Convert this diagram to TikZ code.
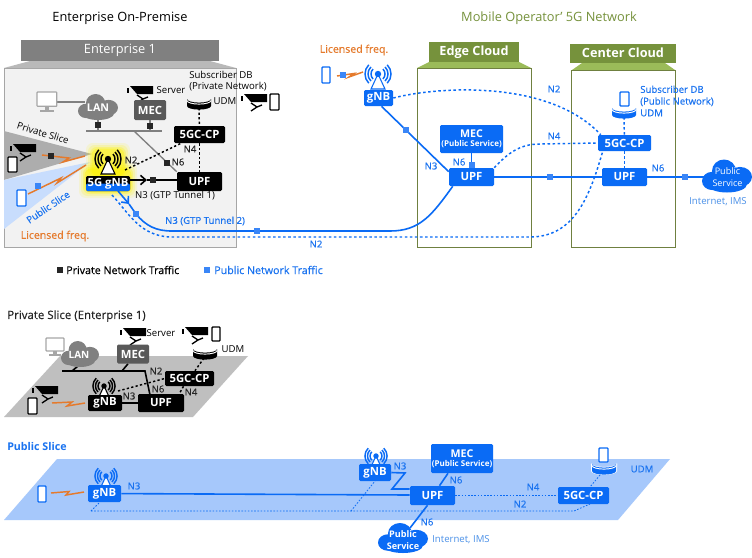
\documentclass[tikz,border=0pt]{standalone}
\usepackage{fontspec}
\setmainfont{Open Sans}
\newfontfamily\medf[FakeBold=0.35]{Open Sans}
\usetikzlibrary{arrows.meta,calc}
\pgfdeclarelayer{panel}\pgfdeclarelayer{conn}
\pgfsetlayers{panel,conn,main}
\definecolor{bl}{HTML}{0A6BF5}
\definecolor{blt}{HTML}{1A73F0}
\definecolor{sqb}{HTML}{3A86F7}
\definecolor{lbl}{HTML}{4A90E8}
\definecolor{org}{HTML}{E57A2C}
\definecolor{ol}{HTML}{76923C}
\definecolor{oll}{HTML}{9BBB59}
\definecolor{olb}{HTML}{6F8040}
\definecolor{gr}{HTML}{595959}
\definecolor{grc}{HTML}{808080}
\tikzset{
  x=0.75pt,y=-0.75pt,
  sz/.style 2 args={minimum width=#1*0.75pt,minimum height=#2*0.75pt},
  boxk/.style={fill=black,text=white,rounded corners=1pt,inner sep=0,font=\fontsize{8.5}{9}\selectfont\bfseries},
  boxg/.style={boxk,fill=gr},
  boxb/.style={boxk,fill=bl},
  lab/.style={inner sep=0,font=\fontsize{7.2}{8.6}\selectfont},
  nk/.style={lab,font=\medf\fontsize{7.2}{8}\selectfont,text=black!85},
  nb/.style={lab,font=\medf\fontsize{7.2}{8}\selectfont,text=blt},
  sqk/.style={fill=black!85,inner sep=0,minimum size=4.5pt},
  sqbl/.style={fill=sqb,inner sep=0,minimum size=4.5pt},
  bolt/.style={org,line width=1.1pt},
  dk/.style={black,line width=1.1pt,dash pattern=on 1.7pt off 1.7pt},
  db/.style={bl,line width=1.1pt,dash pattern=on 1.9pt off 1.9pt},
  dthin/.style={bl,line width=.6pt,dash pattern=on 1.2pt off 1.2pt},
  lb/.style={bl,line width=1.2pt},
  lk/.style={black,line width=1.2pt},
  lg/.style={grc,line width=1pt},
}
\newcommand\camI[3]{\begin{scope}[shift={(#1,#2)},scale=#3]
 \fill (0,3) rectangle (2,8);
 \fill (3,1) -- (26,1) -- (26,9) -- (10,9) -- cycle;
 \draw[line width=1pt] (10,10) -- (16,14) -- (10,18) (16,14) -- (21,12);
 \end{scope}}
\newcommand\phoneI[5]{\draw[#5,fill=white,line width=1pt,rounded corners=.6pt] (#1,#2) rectangle (#3,#4);}
\newcommand\towerI[4]{\begin{scope}[shift={(#1,#2)},scale=#3]
 \filldraw[#4,fill=white,line width=.8pt] (0,0) -- (-7,15) -- (7,15) -- cycle;
 \fill[#4] (0,0) circle (3.2);
 \foreach \r in {7,10,13}{
  \draw[#4,line width=1.1pt] (-45:\r) arc (-45:45:\r);
  \draw[#4,line width=1.1pt] (135:\r) arc (135:225:\r);}
 \end{scope}}
\newcommand\dbI[5]{\begin{scope}[shift={(#1,#2)}]
 \fill[#5] (-#3,0) -- (-#3,#4) arc[start angle=180,end angle=0,x radius=#3,y radius=#3*0.3] -- (#3,0) arc[start angle=0,end angle=180,x radius=#3,y radius=#3*0.3] -- cycle;
 \draw[white,line width=.7pt] (-#3,1.5) arc[start angle=180,end angle=0,x radius=#3,y radius=#3*0.3];
 \end{scope}}
\newcommand\cloudI[5]{\begin{scope}[shift={(#1,#2)},xscale=#3,yscale=#4]
 \fill[#5] (-.12,-.3) ellipse[x radius=.48,y radius=.7];
 \fill[#5] (.52,.05) ellipse[x radius=.48,y radius=.6];
 \fill[#5] (-.6,.3) ellipse[x radius=.4,y radius=.55];
 \fill[#5] (0,.5) ellipse[x radius=.8,y radius=.5];
 \end{scope}}
\newcommand\monI[3]{\begin{scope}[shift={(#1,#2)},scale=#3]
 \draw[gray!70,fill=white,line width=.9pt,rounded corners=.5pt] (0,0) rectangle (18,13);
 \fill[gray!70] (7,13) rectangle (11,16);
 \fill[gray!70] (3,16) rectangle (15,18);
 \end{scope}}
\begin{document}
\begin{tikzpicture}
\useasboundingbox (0,0) rectangle (752,557);
\begin{pgfonlayer}{panel}
\fill[white] (0,0) rectangle (752,557);
% enterprise
\fill[gray!55] (4,68) -- (30,61) -- (210,61) -- (236,68) -- cycle;
\fill[grc] (21,40) rectangle (219,61);
\draw[gray!70,fill=black!5,line width=.7pt] (4,68) rectangle (236,247);
\fill[black!32] (4,131) -- (92,154) -- (4,180) -- cycle;
\fill[sqb!28] (4,180) -- (90,162) -- (4,229) -- cycle;
% edge, center
\fill[oll] (417,68) -- (429,62) -- (519,62) -- (531,68) -- cycle;
\fill[ol] (429,42) rectangle (519,62);
\draw[olb,line width=.7pt] (417,68) rectangle (531,247);
\fill[oll] (572,70) -- (582,63) -- (665,63) -- (675,70) -- cycle;
\fill[ol] (570,44) rectangle (676,63);
\draw[olb,line width=.7pt] (571,70) rectangle (675,247);
% slices
\fill[black!25] (4,417) -- (60,356) -- (248,356) -- (193,417) -- cycle;
\fill[sqb!45] (4,520) -- (57,459) -- (670,459) -- (618,520) -- cycle;
% glow
\foreach \d/\o in {7/.12,5/.18,3/.28,1.5/.4}{
 \fill[yellow,opacity=\o,rounded corners=5pt] (86-\d,170-\d) rectangle (130+\d,191+\d);
 \fill[yellow,opacity=\o,rounded corners=5pt] (93-\d,150-\d) rectangle (123+\d,176);}
\end{pgfonlayer}

%---------- text headings
\node[lab,font=\fontsize{9.6}{10}\selectfont] (tEnt) at (120,18) {Enterprise On-Premise};
\node[lab,font=\fontsize{9.6}{10}\selectfont,text=ol] (tMob) at (549,18) {Mobile Operator' 5G Network};
\node[lab,font=\fontsize{9.6}{10}\selectfont,text=white] (tE1) at (120,50) {Enterprise 1};
\node[lab,font=\fontsize{9.5}{10}\selectfont\bfseries,text=white] (tEdge) at (474,52) {Edge Cloud};
\node[lab,font=\fontsize{9.5}{10}\selectfont\bfseries,text=white] (tCen) at (623,53) {Center Cloud};

%---------- enterprise contents
\monI{37}{92}{1.1}
\cloudI{98}{107}{20}{13}{grc}
\node[lab,font=\fontsize{8}{9}\selectfont\bfseries,text=white] (lan) at (98,108) {LAN};
\camI{127}{85}{1}
\node[lab] (tSrv) at (171,90) {Server};
\node[boxg,sz={32}{20}] (mec) at (150,110) {MEC};
\node[lab,anchor=west,align=left] (tSub) at (189,81) {Subscriber DB\\(Private Network)};
\dbI{199}{99}{12}{7}{black}
\coordinate (udm) at (199,108);
\node[lab] (tUdm) at (225,101) {UDM};
\camI{241}{93}{1}
\phoneI{270}{94}{279}{110}{black}
\node[boxk,sz={51}{17}] (cp) at (199.5,134.5) {5GC-CP};
\node[boxk,sz={45}{19}] (upf) at (199.5,181.5) {UPF};
\node[nk] (lN4) at (190,149) {N4};
\node[nk] (lN2) at (131,160) {N2};
\node[nk] (lN6) at (178,162) {N6};
\towerI{108}{159}{1}{black}
\node[boxk,sz={44}{15},path picture={\fill[bl] (path picture bounding box.west) rectangle (path picture bounding box.south east);}] (gnb) at (108,183.5) {5G gNB};
\node[lab] (lT1) at (175,196) {N3 (GTP Tunnel 1)};
\camI{10}{143}{1}
\phoneI{8}{157}{17}{172}{black}
\phoneI{17}{190}{26}{206}{bl}
\node[lab,rotate=-17] (lPri) at (43,133) {Private Slice};
\node[nb,rotate=34] (lPub) at (48,207) {Public Slice};
\node[lab,text=org,font=\medf\fontsize{7.9}{9}\selectfont] (lLic) at (55,236) {Licensed freq.};
\node[nb] (lT2) at (205,221) {N3 (GTP Tunnel 2)};
\node[nb] (lN2b) at (316,244) {N2};
\node[sqk] (legk) at (60,270) {};
\node[lab,anchor=west,font=\medf\fontsize{8}{9}\selectfont] (tLk) at (66,270) {Private Network Traffic};
\node[sqbl] (legb) at (207,270) {};
\node[lab,anchor=west,text=blt,font=\medf\fontsize{8}{9}\selectfont] (tLb) at (214,270) {Public Network Traffic};

\draw[bolt] (42,155) -- (69,158) -- (63,162) -- (85,156);
\node[sqk] (mB1) at (51,156) {};
\draw[bolt] (28,194) -- (61,178) -- (57,183) -- (86,165);
\node[sqbl] (mB2) at (38,186) {};

\begin{pgfonlayer}{conn}
\draw[lg] (55,102) -- (85,102);
\draw[lg] (86,131) -- (162,131);
\draw[lg] (134,131) -- (upf.north west);
\node[sqk] (m1) at (167,163) {};
\draw[lg] (98,118) -- (98,131) node[sqk,midway] (m2) {};
\draw[lg] (mec.south) -- (150,131) node[sqk,pos=.5] (m3) {};
\draw[dk] (udm) -- (cp);
\draw[dk] (cp) -- (upf);
\draw[dk] (125,170) -- (cp);
\draw[lk,-{Straight Barb[length=4pt,width=7pt]}] (gnb.east |- 0,180) -- (147,180);
\draw[lk] (147,180) -- (upf.west |- 0,180) node[sqk,pos=.2] (m4) {};
\end{pgfonlayer}

%---------- operator contents
\node[lab,text=org,font=\medf\fontsize{7.9}{9}\selectfont] (lLic2) at (354,50) {Licensed freq.};
\phoneI{322}{67}{330}{83}{bl}
\draw[bolt] (337,76) -- (354,73.5) -- (349,77) -- (363,72);
\node[sqbl] (mB3) at (343,75) {};
\towerI{378}{74}{1}{bl}
\node[boxb,sz={29}{16}] (gnbE) at (378.5,98) {gNB};
\node[boxb,sz={45}{18},font=\fontsize{8.5}{9}\selectfont\bfseries] (upfE) at (471.5,177) {UPF};
\node[boxb,sz={63}{28},align=center,font=\fontsize{8}{8}\selectfont\bfseries] (mecE) at (471.5,139) {MEC\\[-1pt]{\fontsize{6}{7}\selectfont (Public Service)}};
\node[boxb,sz={53}{16}] (cpE) at (624.5,143) {5GC-CP};
\node[boxb,sz={45}{18}] (upfC) at (624.5,177) {UPF};
\dbI{624}{108}{12}{7}{bl}
\phoneI{620}{92}{629}{106}{bl}
\coordinate (udmE) at (624,117);
\node[nb,anchor=west,align=left,font=\medf\fontsize{7.2}{8.8}\selectfont] (tSubE) at (640,101) {Subscriber DB\\(Public Network)\\UDM};
\cloudI{727}{176}{25}{16.5}{bl}
\node[lab,text=white,align=center,font=\fontsize{6.8}{8.5}\selectfont] (ps) at (727.5,177) {Public\\Service};
\node[lab,text=lbl] (tInt) at (718,202) {Internet, IMS};
\node[nb] (n21) at (554,89) {N2};
\node[nb] (n41) at (554,136) {N4};
\node[nb] (n31) at (431,166) {N3};
\node[nb] (n61) at (459,162) {N6};
\node[nb] (n62) at (658,168) {N6};
\begin{pgfonlayer}{conn}
% tunnel 2
\draw[lb,-{Straight Barb[length=4pt,width=7pt]}] (118,191) -- (129,204);
\draw[lb] (129,204) -- (136,214) .. controls (146,226) and (156,231) .. (172,231) -- (390,231) .. controls (420,231) and (432,215) .. ($(upfE.south west)+(4,0)$);
\node[sqbl] (m5) at (136,214) {};
\node[sqbl] (m6) at (257,231) {};
\draw[db] (112,195) .. controls (128,212) and (140,237) .. (172,237) -- (530,237) .. controls (575,237) and (590,195) .. ($(cpE.south west)+(5,0)$);
\draw[lb] ($(gnbE.south)+(3,0)$) -- ($(upfE.north west)+(0,4)$) node[sqbl,pos=.36] (m7) {};
\draw[db] (gnbE.east) .. controls (440,86) and (550,80) .. ($(cpE.north west)+(3,0)$);
\draw[lb] (mecE) -- (upfE) node[sqbl,pos=.8] (m8) {};
\draw[db] (upfE.north east) .. controls (508,153) and (520,144) .. (540,144) -- (cpE.west);
\draw[lb] (upfE) -- (upfC) node[sqbl,pos=.52] (m9) {};
\draw[lb] (upfC) -- (ps) node[sqbl,pos=.58] (m10) {};
\draw[db] (udmE) -- (cpE);
\draw[db] (cpE) -- (upfC);
\end{pgfonlayer}

%---------- private slice
\node[lab,font=\medf\fontsize{8.6}{9}\selectfont,text=black!85,anchor=west] (tPS) at (7,316) {Private Slice (Enterprise 1)};
\monI{46}{338}{1}
\cloudI{80}{354}{19}{13}{grc}
\node[lab,font=\fontsize{7.5}{9}\selectfont\bfseries,text=white] (lan2) at (79,355) {LAN};
\camI{120}{327}{1}
\node[lab] (tSrv2) at (161,333) {Server};
\node[boxg,sz={32}{19}] (mec2) at (133,354) {MEC};
\camI{182}{326}{1}
\phoneI{212}{327}{220}{341}{black}
\dbI{205}{349}{12}{7}{black}
\coordinate (udm2) at (204,358);
\node[lab] (tUdm2) at (233,349) {UDM};
\node[boxk,sz={49}{15}] (cp2) at (189.5,378.5) {5GC-CP};
\node[boxk,sz={46}{18}] (upf2) at (161,403) {UPF};
\towerI{104}{386}{.85}{black}
\node[boxk,sz={34}{16}] (gnb2) at (105,403) {gNB};
\camI{32}{385}{1}
\phoneI{28}{398}{37}{414}{black}
\draw[bolt] (52,403) -- (72,402) -- (67,406) -- (85,403);
\node[nk] (a1) at (156,371) {N2};
\node[nk] (a2) at (158,389) {N6};
\node[nk] (a3) at (191,392) {N4};
\node[nk] (a4) at (129,396) {N3};
\begin{pgfonlayer}{conn}
\draw[lk] (62,371) -- (145,371) -- (150,395);
\draw[lk] (78,366) -- (72,371);
\draw[lk] ($(mec2.south)+(-5,0)$) -- (122,371);
\draw[dk] (udm2) -- (cp2);
\draw[dk] (118,391) -- (cp2.west);
\draw[dk] ($(cp2.south)+(-6,0)$) -- ($(upf2.north east)+(-5,0)$);
\draw[lk] (gnb2) -- (upf2);
\end{pgfonlayer}

%---------- public slice
\node[lab,font=\fontsize{8}{9}\selectfont\bfseries,text=blt,anchor=west] (tPub) at (7,446) {Public Slice};
\phoneI{38}{486}{46}{502}{bl}
\draw[bolt] (51,493) -- (69,491.5) -- (66,495) -- (84,492);
\towerI{106}{476}{.85}{bl}
\node[boxb,sz={33}{17}] (gnb3) at (104.5,493.5) {gNB};
\towerI{376}{456}{.85}{bl}
\node[boxb,sz={32}{17}] (gnb4) at (375,472.5) {gNB};
\node[boxb,sz={45}{19}] (upf3) at (432.5,495.5) {UPF};
\node[boxb,sz={62}{29},align=center,font=\fontsize{8}{8}\selectfont\bfseries] (mec3) at (462,458.5) {MEC\\[-1pt]{\fontsize{6}{7}\selectfont (Public Service)}};
\node[boxb,sz={51}{17}] (cp3) at (583.5,495.5) {5GC-CP};
\dbI{604}{463}{13}{8}{white}
\dbI{604}{464}{12}{7}{bl}
\phoneI{599}{448}{608}{462}{bl}
\coordinate (udm3) at (600,475);
\node[nb] (tUdm3) at (642,469) {UDM};
\cloudI{403}{538}{25}{15}{bl}
\node[lab,text=white,align=center,font=\fontsize{6.8}{8.5}\selectfont\bfseries] (ps3) at (403,540) {Public\\Service};
\node[lab,text=lbl] (tInt3) at (461,540) {Internet, IMS};
\node[nb] (b1) at (134,486) {N3};
\node[nb] (b2) at (400,466) {N3};
\node[nb] (b3) at (456,480) {N6};
\node[nb] (b4) at (427,522) {N6};
\node[nb] (b5) at (533,487) {N4};
\node[nb] (b6) at (520,504) {N2};
\coordinate (nL) at (91,511);
\coordinate (nR) at (574,511);
\coordinate (nM) at (351,511);
\coordinate (z1) at (405,473);
\coordinate (z2) at (392,489);
\begin{pgfonlayer}{conn}
\draw[lb] (gnb3) -- (upf3.west |- 0,495);
\draw[lb] (gnb4.east) -- (z1) -- (z2) -- (upf3.west |- z2);
\draw[lb] ($(mec3.south)+(-14,0)$) -- ($(upf3.north)+(7,0)$);
\draw[lb] ($(upf3.south)+(-5,0)$) -- (410,528);
\draw[dthin] (upf3) -- (cp3);
\draw[dthin] (nL) -- (nR) -- (590,504);
\draw[dthin] (nL) -- (100,502);
\draw[dthin] (nM) -- (375,481);
\draw[dthin] (udm3) -- (590,487);
\end{pgfonlayer}
\end{tikzpicture}
\end{document}
